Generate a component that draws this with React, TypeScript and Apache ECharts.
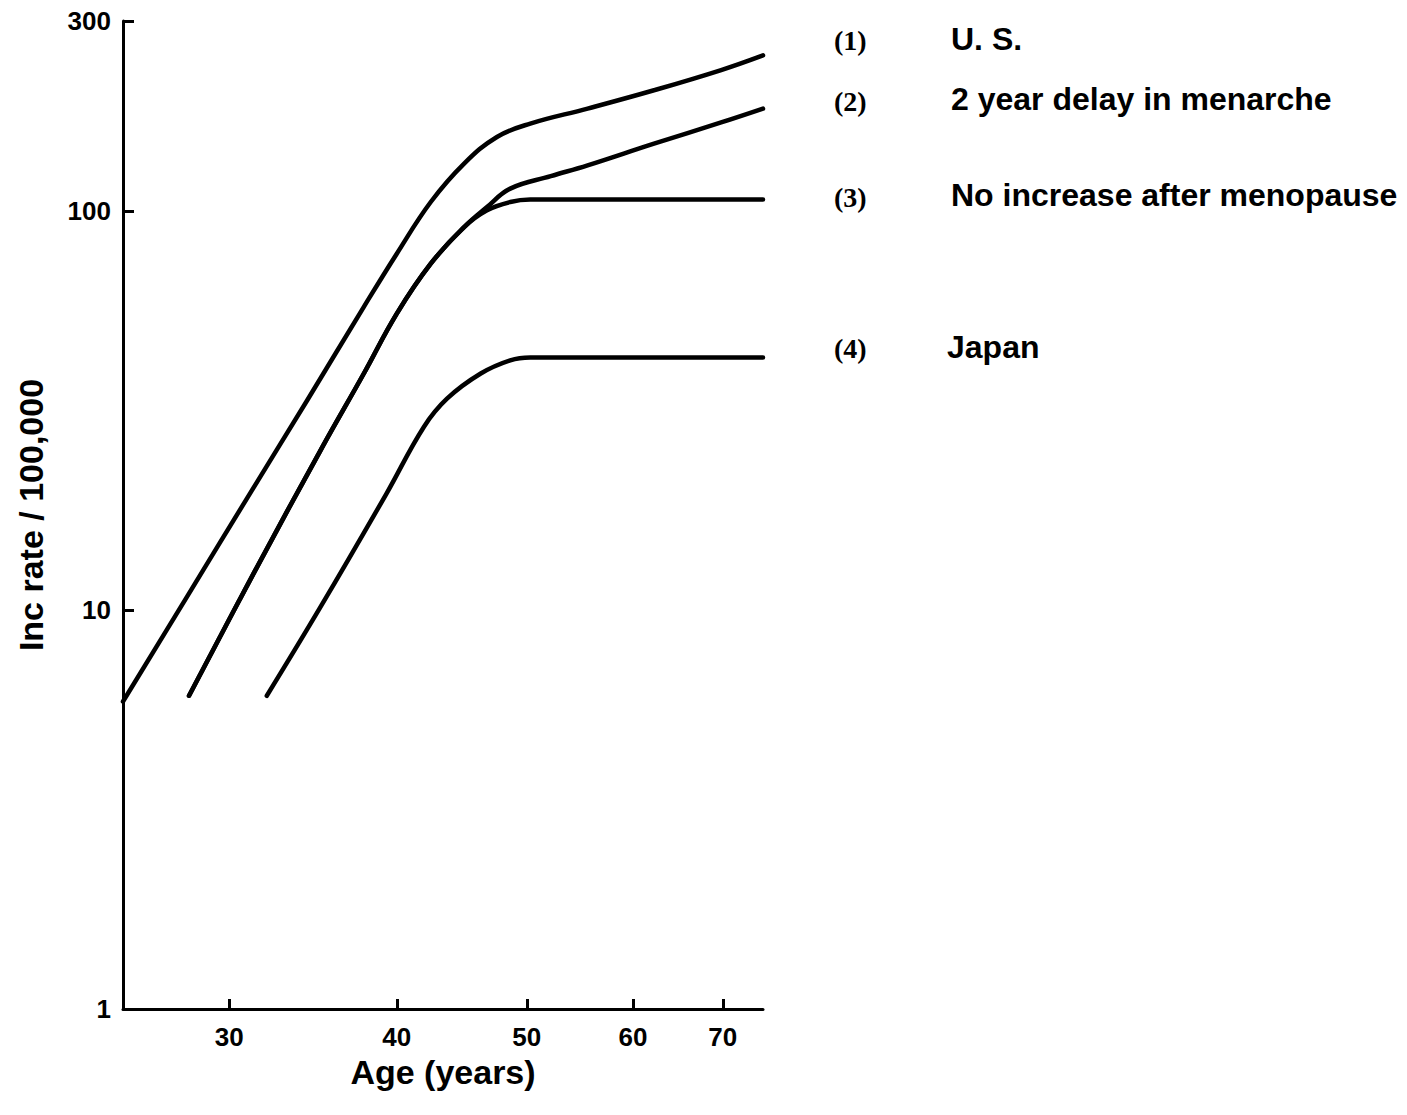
import React, { useEffect, useRef } from "react";
import * as echarts from "echarts";

const xTicks = [30, 40, 50, 60, 70];
const yTicks = [1, 10, 100, 300];

const usAges = [25.0, 27.9, 31.2, 34.3, 37.8, 40.0, 42.4, 44.9, 47.5, 50.3, 55.5, 62.2, 69.8, 75];
const usRates = [5.9, 10.8, 20.0, 33.6, 57.6, 78.3, 105.5, 131.7, 153.6, 165.9, 180.9, 201.1, 226, 246];

const delayAges = [28.0, 31.3, 35.1, 37.8, 40.0, 42.4, 44.9, 46.7, 48.6, 52.1, 55.5, 62.2, 69.8, 75];
const delayRates = [6.1, 12.4, 25.2, 39.2, 55.4, 73.9, 91.3, 102.5, 114, 122.5, 130.4, 147.8, 167, 180.9];

const noIncAges = [28.0, 31.3, 35.1, 37.8, 40.0, 42.4, 44.9, 46.7, 48.6, 50.3, 75];
const noIncRates = [6.1, 12.4, 25.2, 39.2, 55.4, 73.9, 91.3, 100.6, 105.5, 107, 107];

const japanAges = [32.0, 35.1, 39.3, 41.9, 43.6, 46.2, 48.6, 50.3, 75];
const japanRates = [6.1, 10.2, 19.6, 28.8, 33.9, 39.2, 42.3, 43.0, 43.0];

const legendNums = ["(1)", "(2)", "(3)", "(4)"];
const legendNames = ["U. S.", "2 year delay in menarche", "No increase after menopause", "Japan"];

const zip = (a: number[], b: number[]) => a.map((v, i) => [v, b[i]]);

export default function App() {
  const ref = useRef<HTMLDivElement>(null);
  useEffect(() => {
    document.body.style.margin = "0";
    const chart = echarts.init(ref.current!, null, { renderer: "svg" });
    const sans = "Liberation Sans, Arial, sans-serif";
    const serif = "Liberation Serif, Times New Roman, serif";
    const lineSeries = (name: string, data: number[][]) => ({
      type: "line",
      name,
      data,
      showSymbol: false,
      smooth: 0.4,
      lineStyle: { color: "#000", width: 4.5, cap: "round", join: "round" },
      z: 3,
    });
    const numY = [41, 102, 198, 349];
    const nameY = [40, 100, 196, 348];
    const nameX = [951, 951, 951, 947];
    const graphics: any[] = [];
    legendNums.forEach((t, i) => {
      graphics.push({
        type: "text",
        left: 834,
        top: numY[i] - 15,
        style: { text: t, fontFamily: serif, fontWeight: "bold", fontSize: 28, fill: "#000" },
      });
      graphics.push({
        type: "text",
        left: nameX[i],
        top: nameY[i] - 17,
        style: { text: legendNames[i], fontFamily: sans, fontWeight: "bold", fontSize: 32, fill: "#000" },
      });
    });
    chart.setOption({
      animation: false,
      backgroundColor: "#fff",
      grid: { left: 123, top: 21, width: 640, height: 988 },
      xAxis: {
        type: "log",
        logBase: 10,
        min: 25,
        max: 75,
        name: "Age (years)",
        nameLocation: "middle",
        nameGap: 46,
        nameMoveOverlap: false,
        nameTextStyle: { fontFamily: sans, fontWeight: "bold", fontSize: 34, color: "#000" },
        axisLine: { show: true, lineStyle: { color: "#000", width: 3 } },
        axisTick: { show: true, inside: true, length: 10, lineStyle: { color: "#000", width: 3 }, customValues: xTicks },
        axisLabel: { show: true, customValues: xTicks, margin: 15, fontFamily: sans, fontWeight: "bold", fontSize: 26, color: "#000" },
        minorTick: { show: false },
        splitLine: { show: false },
      },
      yAxis: {
        type: "log",
        logBase: 10,
        min: 1,
        max: 300,
        name: "Inc rate / 100,000",
        nameLocation: "middle",
        nameGap: 75,
        nameMoveOverlap: false,
        nameTextStyle: { fontFamily: sans, fontWeight: "bold", fontSize: 34, color: "#000" },
        axisLine: { show: true, lineStyle: { color: "#000", width: 3 } },
        axisTick: { show: true, inside: true, length: 11, lineStyle: { color: "#000", width: 3 }, customValues: yTicks },
        axisLabel: { show: true, customValues: yTicks, margin: 12, fontFamily: sans, fontWeight: "bold", fontSize: 26, color: "#000" },
        minorTick: { show: false },
        splitLine: { show: false },
      },
      series: [
        lineSeries("U. S.", zip(usAges, usRates)),
        lineSeries("2 year delay in menarche", zip(delayAges, delayRates)),
        lineSeries("No increase after menopause", zip(noIncAges, noIncRates)),
        lineSeries("Japan", zip(japanAges, japanRates)),
      ],
      graphic: graphics,
    });
    return () => chart.dispose();
  }, []);
  return <div ref={ref} style={{ width: 1407, height: 1115 }} />;
}
